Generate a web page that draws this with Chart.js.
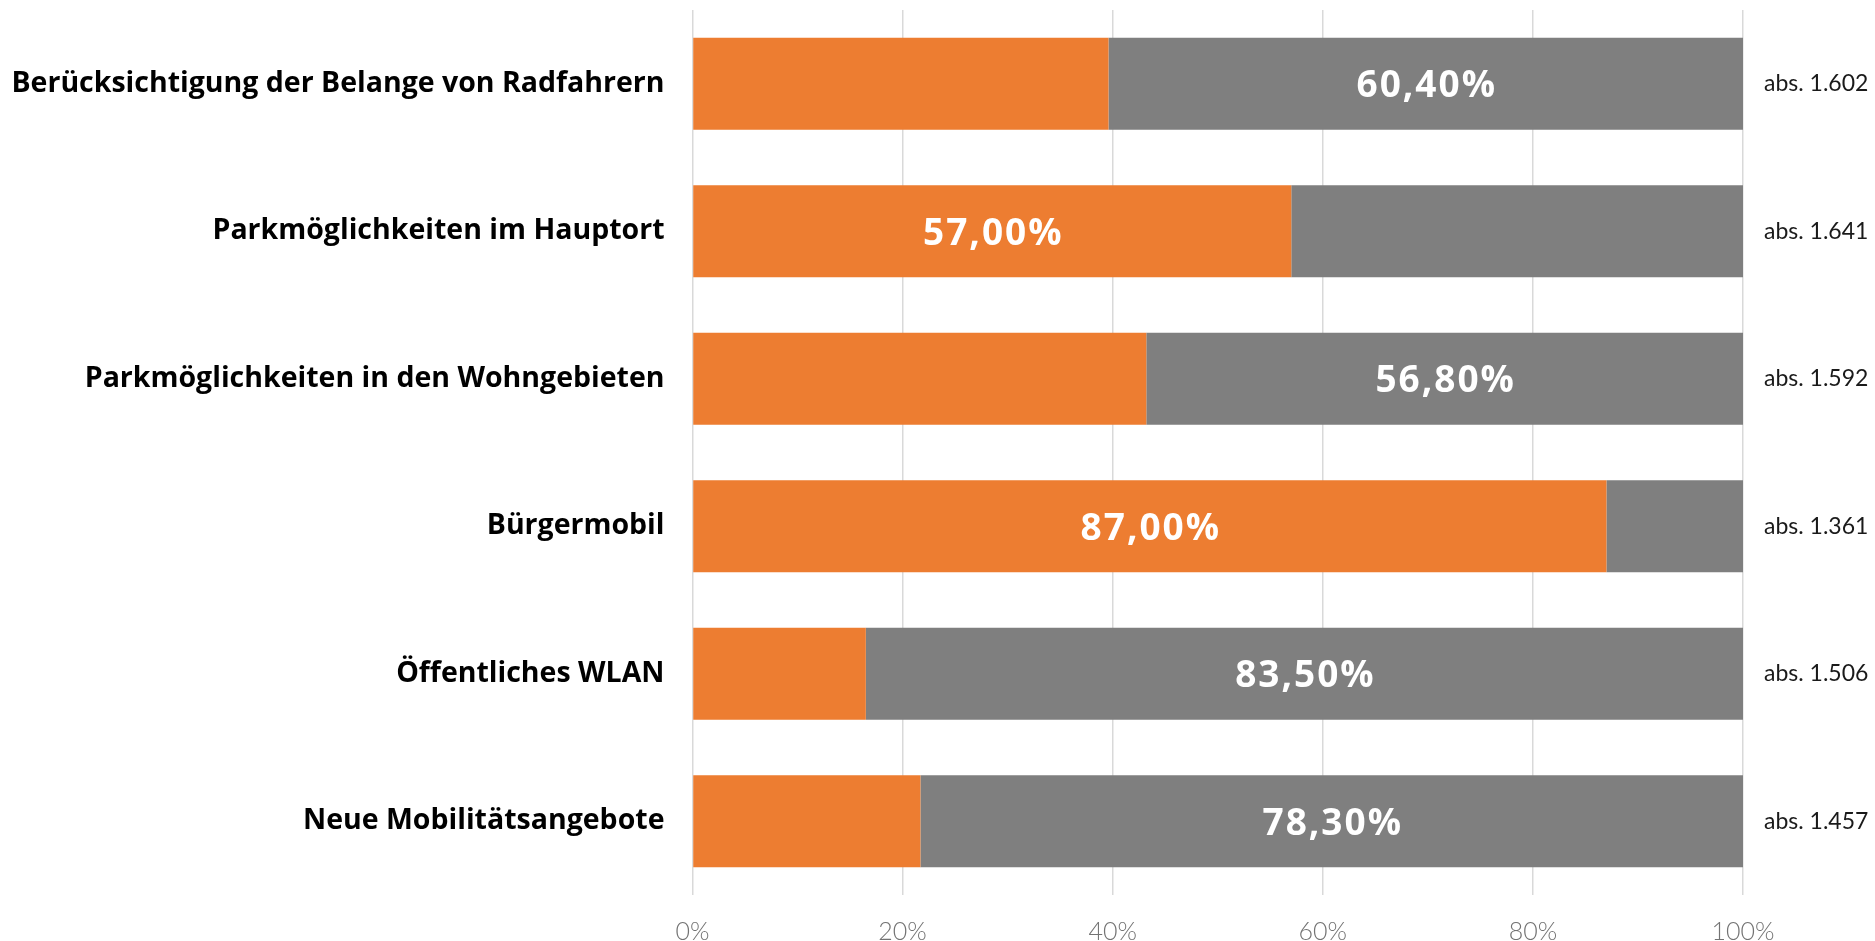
<!DOCTYPE html>
<html>
<head>
<meta charset="utf-8">
<script src="https://cdn.jsdelivr.net/npm/chart.js@4/dist/chart.umd.min.js"></script>
<style>
html,body{margin:0;padding:0;background:#fff;}
#wrap{width:1875px;height:941px;position:relative;}
</style>
</head>
<body>
<div id="wrap"><canvas id="c" width="1875" height="941"></canvas></div>
<script>
const categories = [
  "Berücksichtigung der Belange von Radfahrern",
  "Parkmöglichkeiten im Hauptort",
  "Parkmöglichkeiten in den Wohngebieten",
  "Bürgermobil",
  "Öffentliches WLAN",
  "Neue Mobilitätsangebote"
];
const orangeValues = [39.6, 57.0, 43.2, 87.0, 16.5, 21.7];
const greyValues   = [60.4, 43.0, 56.8, 13.0, 83.5, 78.3];
const absLabels = ["abs. 1.602", "abs. 1.641", "abs. 1.592", "abs. 1.361", "abs. 1.506", "abs. 1.457"];
const xTicks = [0, 20, 40, 60, 80, 100];

const fmt = v => v.toFixed(2).replace('.', ',') + '%';

const segmentLabels = {
  id: 'segmentLabels',
  afterDatasetsDraw(chart) {
    const ctx = chart.ctx;
    ctx.save();
    ctx.fillStyle = '#ffffff';
    ctx.font = 'bold 37px "Open Sans", sans-serif';
    try { ctx.letterSpacing = '2px'; } catch (e) {}
    ctx.textAlign = 'center';
    ctx.textBaseline = 'middle';
    const m0 = chart.getDatasetMeta(0), m1 = chart.getDatasetMeta(1);
    categories.forEach((c, i) => {
      const useOrange = orangeValues[i] >= greyValues[i];
      const el = useOrange ? m0.data[i] : m1.data[i];
      const v = useOrange ? orangeValues[i] : greyValues[i];
      const cx = (el.x + el.base) / 2;
      ctx.fillText(fmt(v), cx + 1, el.y + 3);
    });
    ctx.restore();
  }
};

const noPad = s => { s.paddingTop = 0; s.paddingBottom = 0; };

new Chart(document.getElementById('c'), {
  type: 'bar',
  data: {
    labels: categories,
    datasets: [
      { data: orangeValues, backgroundColor: '#ED7D31', borderWidth: 0, categoryPercentage: 1, barPercentage: 0.624 },
      { data: greyValues, backgroundColor: '#7F7F7F', borderWidth: 0, categoryPercentage: 1, barPercentage: 0.624 }
    ]
  },
  options: {
    indexAxis: 'y',
    responsive: false,
    animation: false,
    layout: { padding: { top: 10, left: 0, right: 0, bottom: 0 } },
    plugins: { legend: { display: false }, tooltip: { enabled: false } },
    scales: {
      x: {
        stacked: true,
        min: 0, max: 100,
        afterBuildTicks: s => { s.ticks = xTicks.map(v => ({ value: v })); },
        afterFit: s => { s.height = 46; s.paddingLeft = 0; s.paddingRight = 0; },
        grid: { color: '#d9d9d9', lineWidth: 1.5, drawTicks: false },
        border: { display: false },
        ticks: {
          padding: 22,
          color: '#737373',
          font: { family: 'Lato', weight: '300', size: 25 },
          callback: v => v + '%'
        }
      },
      y: {
        stacked: true,
        afterFit: s => { s.width = 692.5; noPad(s); },
        grid: { display: false, drawTicks: false },
        border: { display: false },
        ticks: {
          padding: 28,
          color: '#000000',
          font: { family: 'Open Sans', weight: 'bold', size: 28.5 }
        }
      },
      y2: {
        type: 'category',
        position: 'right',
        labels: absLabels,
        offset: true,
        afterFit: s => { s.width = 132; noPad(s); },
        grid: { display: false, drawTicks: false },
        border: { display: false },
        ticks: {
          padding: 21,
          color: '#1a1a1a',
          font: { family: 'Lato', weight: 'normal', size: 23 }
        }
      }
    }
  },
  plugins: [segmentLabels]
});
</script>
</body>
</html>
